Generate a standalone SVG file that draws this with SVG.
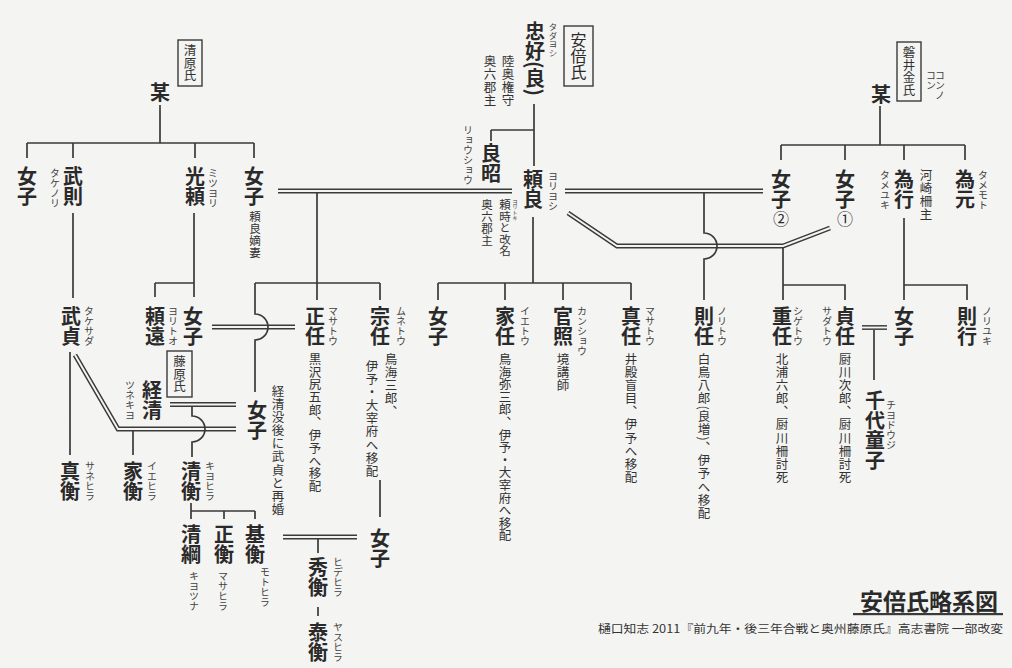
<svg xmlns="http://www.w3.org/2000/svg" width="1012" height="668" viewBox="0 0 1012 668">
<style>
text{font-family:"Noto Sans CJK JP","Noto Sans CJK SC",sans-serif;fill:#2a2a2a}
.v{writing-mode:vertical-rl}
.n{font-size:20px;font-weight:700}
.r{font-size:10px;fill:#404040}
.t{font-size:12.5px;letter-spacing:0.6px;fill:#333}
.bx{font-size:12.5px;fill:#333}
.ln{fill:none;stroke:#3a3a3a;stroke-width:1.7}
.dO{fill:none;stroke:#3a3a3a;stroke-width:4.8}
.dI{fill:none;stroke:#f4f4f2;stroke-width:1.9}
.box{fill:none;stroke:#3a3a3a;stroke-width:1.4}
</style>
<defs>
<path id="d1" d="M278 191 H512"/>
<path id="d2" d="M565 191 H763"/>
<path id="d3" d="M568 213 L617 246 H783 L830 228"/>
<path id="d4" d="M212 327 H295"/>
<path id="d5" d="M170 404.5 H236"/>
<path id="d6" d="M75 355 L118 429 H236"/>
<path id="d7" d="M862 327.5 H887"/>
<path id="d8" d="M283 537 H357"/>
</defs>
<rect width="1012" height="668" fill="#f4f4f2"/>

<g id="connectors">
<g class="dO"><use href="#d1"/><use href="#d2"/><use href="#d3"/><use href="#d4"/><use href="#d5"/><use href="#d6"/><use href="#d7"/><use href="#d8"/></g>
<g class="dI"><use href="#d1"/><use href="#d2"/><use href="#d3"/><use href="#d4"/><use href="#d5"/><use href="#d6"/><use href="#d7"/><use href="#d8"/></g>
<path class="ln" d="M160 105 V143 M27 143 H254 M27 143 V158 M73 143 V158 M195 143 V158 M254 143 V158"/>
<path class="ln" d="M73 213 V298 M194 213 V297 M155 283 H194 M155 283 V297"/>
<path class="ln" d="M534 104 V166 M491 130 H534 M491 130 V141"/>
<path class="ln" d="M533 217 V283 M438 283 H631 M438 283 V300 M505 283 V300 M563 283 V300 M631 283 V300"/>
<path class="ln" d="M317 193 V300 M255 283 H380 M380 283 V300 M255 283 V314 A13 13 0 0 1 255 340 V392"/>
<path class="ln" d="M704 193 V233 A13 13 0 0 1 704 259 V300"/>
<path class="ln" d="M783 248 V300 M783 285 H845 V300"/>
<path class="ln" d="M880 106 V145 M781 145 H965 M781 145 V160 M845 145 V160 M904 145 V160 M965 145 V160"/>
<path class="ln" d="M904 218 V300 M904 285 H967 V300 M874 330 V380"/>
<path class="ln" d="M70 352 V455 M133 431 V455 M192 407 V416 A13 13 0 0 1 192 442 V457"/>
<path class="ln" d="M191 503 V519 M191 511 H255 M224 511 V519 M255 511 V519"/>
<path class="ln" d="M318 539 V553 M318 607 V616 M380 480 V517"/>
</g>

<g id="clan-kiyohara"><rect class="box" x="178" y="40" width="24" height="46"/><text class="v bx" x="190" y="44">清原氏</text></g>
<g id="clan-abe"><rect class="box" x="564" y="26" width="29" height="60"/><text class="v" x="578.5" y="32" style="font-size:16px">安倍氏</text></g>
<g id="clan-iwai"><rect class="box" x="897" y="42" width="24" height="59"/><text class="v bx" x="909" y="46">磐井金氏</text></g>
<g id="clan-fujiwara"><rect class="box" x="167" y="351" width="25" height="46"/><text class="v bx" x="179.5" y="355">藤原氏</text></g>

<g id="n-kiyohara-bo"><text class="v n" x="160" y="82">某</text></g>
<g id="n-joshi-a"><text class="v n" x="27" y="166">女子</text></g>
<g id="n-takenori"><text class="v n" x="73" y="166">武則</text><text class="v r" x="55" y="168">タケノリ</text></g>
<g id="n-mitsuyori"><text class="v n" x="195" y="166">光頼</text><text class="v r" x="213" y="168">ミツヨリ</text></g>
<g id="n-joshi-b"><text class="v n" x="254" y="166">女子</text><text class="v t" x="255" y="211" style="font-size:11.5px;letter-spacing:0.3px">頼良嫡妻</text></g>

<g id="n-tadayoshi"><text class="v n" x="535" y="21">忠好(良)</text><text class="v r" x="553" y="23" style="font-size:8.5px">タダヨシ</text><text class="v t" x="508" y="55">陸奥権守</text><text class="v t" x="490" y="55">奥六郡主</text></g>
<g id="n-ryosho"><text class="v n" x="491" y="143">良昭</text><text class="v r" x="468" y="125">リョウショウ</text></g>
<g id="n-yoriyoshi"><text class="v n" x="533" y="169">頼良</text><text class="v r" x="553" y="171">ヨリヨシ</text><text class="v t" x="505" y="199" style="font-size:11.5px;letter-spacing:0">頼時と改名</text><text class="v r" x="515" y="199" style="font-size:5.5px">ヨリトキ</text><text class="v t" x="487" y="199" style="font-size:11.5px;letter-spacing:0.3px">奥六郡主</text></g>

<g id="n-iwai-bo"><text class="v n" x="881" y="84">某</text><text class="v r" x="940" y="70">コンノ</text><text class="v r" x="931" y="70">コン</text></g>
<g id="n-joshi-2"><text class="v n" x="781" y="169">女子</text><text class="v" x="781" y="211" style="font-size:16px">②</text></g>
<g id="n-joshi-1"><text class="v n" x="845" y="169">女子</text><text class="v" x="845" y="211" style="font-size:16px">①</text></g>
<g id="n-tameyuki"><text class="v n" x="904" y="169">為行</text><text class="v r" x="885" y="170">タメユキ</text><text class="v t" x="926" y="169">河崎柵主</text></g>
<g id="n-tamemoto"><text class="v n" x="965" y="169">為元</text><text class="v r" x="983" y="170">タメモト</text></g>

<g id="n-takesada"><text class="v n" x="71" y="306">武貞</text><text class="v r" x="89" y="306">タケサダ</text></g>
<g id="n-yoritoo"><text class="v n" x="155" y="306">頼遠</text><text class="v r" x="173" y="306">ヨリトオ</text></g>
<g id="n-joshi-c"><text class="v n" x="193" y="306">女子</text></g>
<g id="n-masato"><text class="v n" x="315" y="306">正任</text><text class="v r" x="333" y="306">マサトウ</text><text class="v t" x="315" y="353" style="letter-spacing:0.2px">黒沢尻五郎、伊予へ移配</text></g>
<g id="n-muneto"><text class="v n" x="380" y="306">宗任</text><text class="v r" x="401" y="306">ムネトウ</text><text class="v t" x="391" y="353">鳥海三郎、</text><text class="v t" x="372" y="360">伊予・大宰府へ移配</text></g>
<g id="n-joshi-d"><text class="v n" x="438" y="306">女子</text></g>
<g id="n-ieto"><text class="v n" x="505" y="306">家任</text><text class="v r" x="525" y="306">イエトウ</text><text class="v t" x="505" y="353" style="letter-spacing:0.1px">鳥海弥三郎、伊予・大宰府へ移配</text></g>
<g id="n-kansho"><text class="v n" x="563" y="306">官照</text><text class="v r" x="582" y="306">カンショウ</text><text class="v t" x="563" y="353">境講師</text></g>
<g id="n-sanato"><text class="v n" x="631" y="306">真任</text><text class="v r" x="650" y="306">マサトウ</text><text class="v t" x="631" y="353">井殿盲目、伊予へ移配</text></g>
<g id="n-norito"><text class="v n" x="704" y="306">則任</text><text class="v r" x="722" y="306">ノリトウ</text><text class="v t" x="704" y="353">白鳥八郎(良増)、伊予へ移配</text></g>
<g id="n-shigeto"><text class="v n" x="782" y="306">重任</text><text class="v r" x="798" y="306">シゲトウ</text><text class="v t" x="782" y="353">北浦六郎、厨川柵討死</text></g>
<g id="n-sadato"><text class="v n" x="845" y="306">貞任</text><text class="v r" x="827" y="306">サダトウ</text><text class="v t" x="845" y="353">厨川次郎、厨川柵討死</text></g>
<g id="n-joshi-e"><text class="v n" x="904" y="306">女子</text></g>
<g id="n-noriyuki"><text class="v n" x="967" y="306">則行</text><text class="v r" x="987" y="306">ノリユキ</text></g>
<g id="n-chiyodoji"><text class="v n" x="875" y="390">千代童子</text><text class="v r" x="891" y="400">チヨドウジ</text></g>

<g id="n-tsunekiyo"><text class="v n" x="152" y="380">経清</text><text class="v r" x="130" y="380">ツネキヨ</text></g>
<g id="n-joshi-f"><text class="v n" x="257" y="400">女子</text><text class="v t" x="278" y="385">経清没後に武貞と再婚</text></g>
<g id="n-sanehira"><text class="v n" x="70" y="461">真衡</text><text class="v r" x="90" y="461">サネヒラ</text></g>
<g id="n-iehira"><text class="v n" x="133" y="461">家衡</text><text class="v r" x="152" y="461">イエヒラ</text></g>
<g id="n-kiyohira"><text class="v n" x="191" y="461">清衡</text><text class="v r" x="210" y="461">キヨヒラ</text></g>
<g id="n-kiyotsuna"><text class="v n" x="191" y="524">清綱</text><text class="v r" x="194" y="571">キヨツナ</text></g>
<g id="n-masahira"><text class="v n" x="224" y="524">正衡</text><text class="v r" x="223" y="571">マサヒラ</text></g>
<g id="n-motohira"><text class="v n" x="255" y="524">基衡</text><text class="v r" x="265" y="567">モトヒラ</text></g>
<g id="n-joshi-g"><text class="v n" x="380" y="528">女子</text></g>
<g id="n-hidehira"><text class="v n" x="318" y="557">秀衡</text><text class="v r" x="338" y="557">ヒデヒラ</text></g>
<g id="n-yasuhira"><text class="v n" x="318" y="622">泰衡</text><text class="v r" x="338" y="622">ヤスヒラ</text></g>

<g id="title">
<text x="998" y="610" text-anchor="end" style="font-size:23px;font-weight:700">安倍氏略系図</text>
<rect x="853" y="613" width="150" height="2.2" fill="#3a3a3a"/>
<text x="1003" y="633" text-anchor="end" textLength="405" lengthAdjust="spacingAndGlyphs" style="font-family:'Noto Sans CJK JP',sans-serif;font-size:11.5px;fill:#333">樋口知志 2011『前九年・後三年合戦と奥州藤原氏』高志書院 一部改変</text>
</g>
</svg>
